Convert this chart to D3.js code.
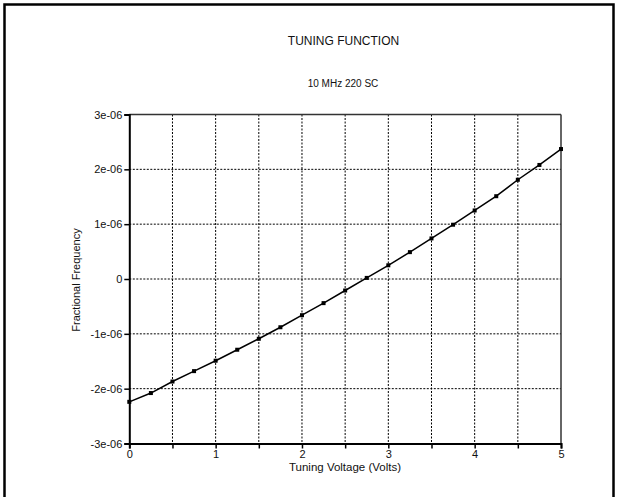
<!DOCTYPE html>
<html>
<head>
<meta charset="utf-8">
<script src="https://cdn.jsdelivr.net/npm/d3@7"></script>
<style>
  html, body { margin: 0; padding: 0; background: #fff; }
  svg text { font-family: "Liberation Sans", Arial, sans-serif; fill: #111; }
</style>
</head>
<body>
<svg id="chart" width="619" height="497"></svg>
<script>
// ---- data ----
const voltage = [0, 0.25, 0.5, 0.75, 1, 1.25, 1.5, 1.75, 2, 2.25, 2.5, 2.75, 3, 3.25, 3.5, 3.75, 4, 4.25, 4.5, 4.75, 5];
const fracFreq = [-2.24e-6, -2.08e-6, -1.87e-6, -1.68e-6, -1.49e-6, -1.29e-6, -1.09e-6, -0.88e-6, -0.66e-6, -0.44e-6,
                  -0.21e-6, 0.02e-6, 0.25e-6, 0.49e-6, 0.74e-6, 0.99e-6, 1.25e-6, 1.51e-6, 1.81e-6, 2.08e-6, 2.37e-6];
const xTickValues = [0, 1, 2, 3, 4, 5];
const xTickLabels = ["0", "1", "2", "3", "4", "5"];
const xMinorValues = [0.5, 1.5, 2.5, 3.5, 4.5];
const yTickValues = [-3e-6, -2e-6, -1e-6, 0, 1e-6, 2e-6, 3e-6];
const yTickLabels = ["-3e-06", "-2e-06", "-1e-06", "0", "1e-06", "2e-06", "3e-06"];
const titleText = "TUNING FUNCTION";
const subtitleText = "10 MHz 220 SC";
const xTitle = "Tuning Voltage (Volts)";
const yTitle = "Fractional Frequency";

// ---- layout ----
const svg = d3.select("#chart");
const L = 129.3, R = 561, T = 114.5, B = 443.5;
const x = d3.scaleLinear().domain([0, 5]).range([L, R]);
const y = d3.scaleLinear().domain([-3e-6, 3e-6]).range([B, T]);

// outer frame
svg.append("rect").attr("x", 4.5).attr("y", 4.5).attr("width", 609).attr("height", 500)
  .attr("fill", "none").attr("stroke", "#000").attr("stroke-width", 2.5);

// titles
svg.append("text").attr("x", 343.5).attr("y", 45).attr("text-anchor", "middle")
  .attr("font-size", 12).text(titleText);
svg.append("text").attr("x", 343).attr("y", 86.5).attr("text-anchor", "middle")
  .attr("font-size", 10).text(subtitleText);

// grid
const allX = xTickValues.concat(xMinorValues).filter(v => v > 0 && v < 5);
svg.append("g").selectAll("line").data(allX).join("line")
  .attr("x1", d => x(d)).attr("x2", d => x(d)).attr("y1", T).attr("y2", B)
  .attr("stroke", "#000").attr("stroke-width", 1).attr("stroke-dasharray", "2,1.5");
svg.append("g").selectAll("line").data(yTickValues.filter(v => v > -3e-6 && v < 3e-6)).join("line")
  .attr("x1", L).attr("x2", R).attr("y1", d => y(d)).attr("y2", d => y(d))
  .attr("stroke", "#000").attr("stroke-width", 1).attr("stroke-dasharray", "2,1.5");

// frame top/right
svg.append("line").attr("x1", L).attr("x2", R).attr("y1", T).attr("y2", T)
  .attr("stroke", "#333").attr("stroke-width", 1.5);
svg.append("line").attr("x1", R).attr("x2", R).attr("y1", T).attr("y2", B)
  .attr("stroke", "#333").attr("stroke-width", 1.5);

// x axis
const xAxis = d3.axisBottom(x).tickValues(xTickValues.concat(xMinorValues).sort((a, b) => a - b))
  .tickSize(5).tickPadding(2)
  .tickFormat(d => { const i = xTickValues.indexOf(d); return i >= 0 ? xTickLabels[i] : ""; });
const gx = svg.append("g").attr("transform", `translate(0,${B})`).call(xAxis);
gx.select(".domain").attr("stroke", "#000").attr("stroke-width", 2);
gx.selectAll(".tick line").attr("stroke", "#000").attr("stroke-width", 1.5);
gx.selectAll(".tick text").attr("font-size", 11).attr("fill", "#111")
  .attr("font-family", "Liberation Sans, Arial, sans-serif");

// y axis
const yAxis = d3.axisLeft(y).tickValues(yTickValues).tickSize(5).tickPadding(2)
  .tickFormat((d, i) => yTickLabels[i]);
const gy = svg.append("g").attr("transform", `translate(${L},0)`).call(yAxis);
gy.select(".domain").attr("stroke", "#000").attr("stroke-width", 2);
gy.selectAll(".tick line").attr("stroke", "#000").attr("stroke-width", 1.5);
gy.selectAll(".tick text").attr("font-size", 11).attr("fill", "#111")
  .attr("font-family", "Liberation Sans, Arial, sans-serif");

// axis titles
svg.append("text").attr("x", 345).attr("y", 471).attr("text-anchor", "middle")
  .attr("font-size", 11.5).text(xTitle);
svg.append("text").attr("transform", `translate(80,280) rotate(-90)`).attr("text-anchor", "middle")
  .attr("font-size", 11).text(yTitle);

// line + markers
const pts = voltage.map((v, i) => [v, fracFreq[i]]);
svg.append("path").datum(pts)
  .attr("d", d3.line().x(d => x(d[0])).y(d => y(d[1])))
  .attr("fill", "none").attr("stroke", "#000").attr("stroke-width", 1.5);
const ms = 4;
svg.append("g").selectAll("rect").data(pts).join("rect")
  .attr("x", d => x(d[0]) - ms / 2).attr("y", d => y(d[1]) - ms / 2)
  .attr("width", ms).attr("height", ms).attr("fill", "#000");
</script>
</body>
</html>
